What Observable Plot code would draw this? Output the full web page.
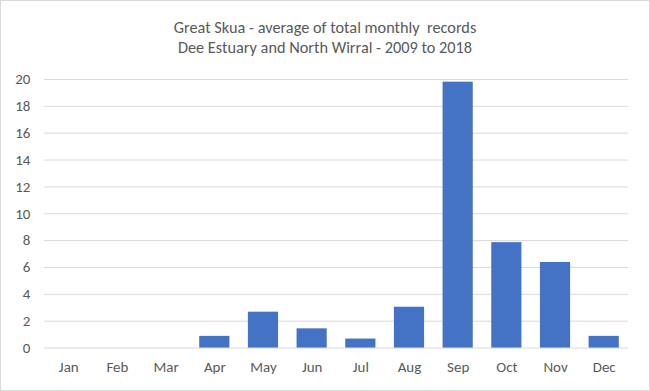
<!DOCTYPE html>
<html>
<head>
<meta charset="utf-8">
<script src="https://cdn.jsdelivr.net/npm/d3@7"></script>
<script src="https://cdn.jsdelivr.net/npm/@observablehq/plot@0.6"></script>
<style>
  html, body { margin: 0; padding: 0; background: #fff; }
  #wrap { position: relative; width: 650px; height: 391px; box-sizing: border-box; border: 1px solid #d9d9d9; overflow: hidden; font-family: Carlito, Calibri, Lato, sans-serif; }
  #title { position: absolute; left: 0; top: 16px; width: 648px; text-align: center; color: #595959; font-size: 16.3px; line-height: 20px; }
  #chart { position: absolute; left: -1px; top: 59px; }
  #chart svg text { font-size: 15px !important; fill: #595959; }
</style>
</head>
<body>
<div id="wrap">
  <div id="title">Great Skua - average of total monthly&nbsp; records<br>Dee Estuary and North Wirral - 2009 to 2018</div>
  <div id="chart"></div>
</div>
<script>
const months = ["Jan","Feb","Mar","Apr","May","Jun","Jul","Aug","Sep","Oct","Nov","Dec"];
const values = [0, 0, 0, 0.87, 2.67, 1.43, 0.67, 3.04, 19.8, 7.85, 6.37, 0.87];
const yTicks = [0, 2, 4, 6, 8, 10, 12, 14, 16, 18, 20];

const data = months.map((m, i) => ({month: m, value: values[i]}));

const font = "Carlito, Calibri, Lato, sans-serif";
const chart = Plot.plot({
  width: 650,
  height: 332,
  marginTop: 19,
  marginBottom: 44,
  marginLeft: 44,
  marginRight: 21,
  style: { fontFamily: font, fontSize: "15px", background: "transparent" },
  x: { domain: months, paddingInner: 0.38, paddingOuter: 0.19, align: 0.5, round: false },
  y: { domain: [0, 20] },
  marks: [
    Plot.gridY(yTicks, { stroke: "#d9d9d9", strokeOpacity: 1, strokeWidth: 1 }),
    Plot.barY(data, { x: "month", y: "value", fill: "#4472C4" }),
    Plot.axisX({ label: null, tickSize: 0, tickPadding: 13, fill: "#595959" }),
    Plot.axisY(yTicks, { label: null, tickSize: 0, tickPadding: 14, fill: "#595959" })
  ]
});
document.getElementById("chart").appendChild(chart);
</script>
</body>
</html>
